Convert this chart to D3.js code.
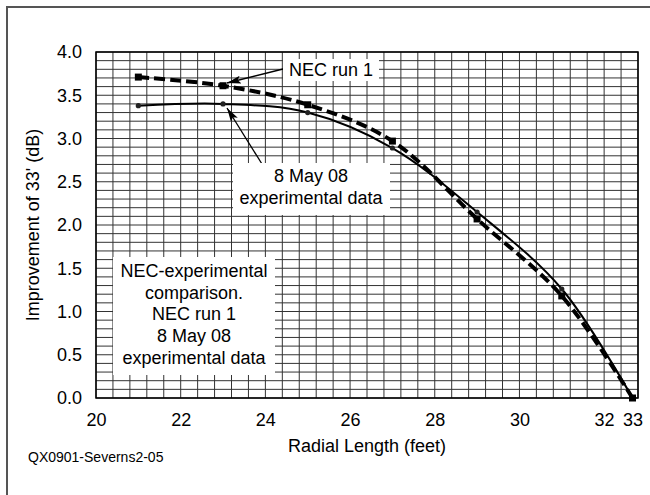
<!DOCTYPE html>
<html>
<head>
<meta charset="utf-8">
<script src="https://cdn.jsdelivr.net/npm/d3@7"></script>
<style>
  body { margin: 0; background: #fff; }
  svg text { font-family: "Liberation Sans", Arial, sans-serif; fill: #000; }
</style>
</head>
<body>
<div id="chart"></div>
<script>
// NEC vs. measured improvement over the 33' radial case

const radialLength = [21, 23, 25, 27, 29, 31, 33];
const necRun1 = [3.71, 3.61, 3.39, 2.97, 2.07, 1.18, 0.0];
const may08 = [3.38, 3.40, 3.30, 2.89, 2.15, 1.26, 0.0];
const xTickValues = [20, 22, 24, 26, 28, 30, 32, 33];
const yTickValues = [0, 0.5, 1.0, 1.5, 2.0, 2.5, 3.0, 3.5, 4.0];
const boxLines = ['NEC-experimental', 'comparison.', 'NEC run 1', '8 May 08', 'experimental data'];

const W = 650, H = 495;
const margin = { top: 52, left: 96 };
const width = 542;
const height = 346;

const svg = d3.select('#chart').append('svg')
    .attr('width', W)
    .attr('height', H);

// outer frame (runs off the right and bottom edges)
svg.append('rect')
    .attr('x', 7).attr('y', 7)
    .attr('width', 680).attr('height', 520)
    .attr('fill', 'none')
    .attr('stroke', '#555')
    .attr('stroke-width', 2);

const g = svg.append('g')
    .attr('transform', `translate(${margin.left},${margin.top})`);

// Scales - the "33" point sits just short of the right edge, like the original
const xScale = d3.scaleLinear()
    .domain([20, 32, 33])
    .range([0, width * 12 / 12.8, width * 12.67 / 12.8]);
const xGrid = d3.scaleLinear().domain([20, 32.8]).range([0, width]);
const yScale = d3.scaleLinear().domain([0, 4]).range([height, 0]);

// grid: 0.4 ft by 0.1 dB
g.append('g')
    .attr('class', 'grid')
    .selectAll('line')
    .data(d3.range(0, 33).map(i => 20 + i * 0.4))
    .join('line')
    .attr('x1', d => xGrid(d)).attr('x2', d => xGrid(d))
    .attr('y1', 0).attr('y2', height)
    .attr('stroke', '#333')
    .attr('stroke-width', 1);

g.append('g')
    .attr('class', 'grid')
    .selectAll('line')
    .data(d3.range(0, 41).map(i => i * 0.1))
    .join('line')
    .attr('x1', 0).attr('x2', width)
    .attr('y1', d => yScale(d)).attr('y2', d => yScale(d))
    .attr('stroke', '#333')
    .attr('stroke-width', 1);

g.append('rect')
    .attr('width', width).attr('height', height)
    .attr('fill', 'none')
    .attr('stroke', '#000')
    .attr('stroke-width', 1.5);

// Axes (labels only)
const xAxis = g.append('g')
    .attr('transform', `translate(0,${height})`)
    .call(d3.axisBottom(xScale).tickValues(xTickValues).tickSize(0).tickPadding(15).tickFormat(d3.format('d')));
xAxis.select('.domain').remove();
xAxis.selectAll('text').style('font-size', '18px');

const yAxis = g.append('g')
    .call(d3.axisLeft(yScale).tickValues(yTickValues).tickSize(0).tickPadding(14).tickFormat(d3.format('.1f')));
yAxis.select('.domain').remove();
yAxis.selectAll('text').style('font-size', '18px');

// Axis titles
svg.append('text')
    .attr('x', margin.left + 271)
    .attr('y', 452)
    .attr('text-anchor', 'middle')
    .style('font-size', '18px')
    .text('Radial Length (feet)');

svg.append('text')
    .attr('transform', `translate(39,${margin.top + height / 2}) rotate(-90)`)
    .attr('text-anchor', 'middle')
    .style('font-size', '18px')
    .text("Improvement of 33' (dB)");

svg.append('text')
    .attr('x', 28)
    .attr('y', 462)
    .style('font-size', '14px')
    .text('QX0901-Severns2-05');

// Series
const necData = radialLength.map((r, i) => ({ x: r, y: necRun1[i] }));
const expData = radialLength.map((r, i) => ({ x: r, y: may08[i] }));

const line = d3.line()
    .x(d => xScale(d.x))
    .y(d => yScale(d.y))
    .curve(d3.curveCatmullRom.alpha(0.5));

g.append('path')
    .datum(expData)
    .attr('d', line)
    .attr('fill', 'none')
    .attr('stroke', '#000')
    .attr('stroke-width', 2);

g.selectAll('.exp-dot')
    .data(expData)
    .join('circle')
    .attr('class', 'exp-dot')
    .attr('cx', d => xScale(d.x))
    .attr('cy', d => yScale(d.y))
    .attr('r', 2.6)
    .attr('fill', '#222');

g.append('path')
    .datum(necData)
    .attr('d', line)
    .attr('fill', 'none')
    .attr('stroke', '#000')
    .attr('stroke-width', 4)
    .attr('stroke-dasharray', '11,5');

g.selectAll('.nec-sq')
    .data(necData)
    .join('rect')
    .attr('class', 'nec-sq')
    .attr('x', d => xScale(d.x) - 3.5)
    .attr('y', d => yScale(d.y) - 3.5)
    .attr('width', 7)
    .attr('height', 7)
    .attr('fill', '#000');

// Annotations
svg.append('defs').append('marker')
    .attr('id', 'arrow')
    .attr('viewBox', '0 0 14 8')
    .attr('refX', 14).attr('refY', 4)
    .attr('markerWidth', 14).attr('markerHeight', 8)
    .attr('markerUnits', 'userSpaceOnUse')
    .attr('orient', 'auto')
    .append('path')
    .attr('d', 'M0,0 L14,4 L0,8 L3,4 Z')
    .attr('fill', '#000');

const arrow = (x1, y1, x2, y2) => svg.append('line')
    .attr('x1', x1).attr('y1', y1)
    .attr('x2', x2).attr('y2', y2)
    .attr('stroke', '#000')
    .attr('stroke-width', 1.3)
    .attr('marker-end', 'url(#arrow)');

arrow(287, 68, 227, 83);
arrow(262, 164, 227, 108);

const labelBox = (x, y, w, h, lines, cx, firstBaseline, step) => {
    svg.append('rect')
        .attr('x', x).attr('y', y)
        .attr('width', w).attr('height', h)
        .attr('fill', '#fff');
    svg.selectAll(null)
        .data(lines)
        .enter()
        .append('text')
        .attr('x', cx)
        .attr('y', (d, i) => firstBaseline + i * step)
        .attr('text-anchor', 'middle')
        .style('font-size', '18px')
        .text(d => d);
};

labelBox(283, 59, 96, 22, ['NEC run 1'], 331, 75.5, 0);
labelBox(233, 163, 157, 52, ['8 May 08', 'experimental data'], 311, 182, 22);
labelBox(113, 257, 162, 118, boxLines, 194, 277, 21.7);
</script>
</body>
</html>
